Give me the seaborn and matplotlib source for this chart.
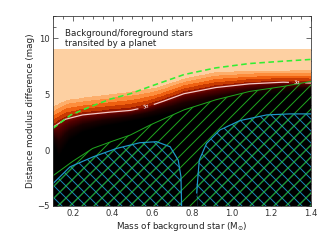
import numpy as np
import matplotlib
matplotlib.use("Agg")
import matplotlib.pyplot as plt
import seaborn as sns
from matplotlib.colors import ListedColormap, to_rgb
from matplotlib.patches import Polygon
from matplotlib.ticker import MultipleLocator

# ---------------- data ----------------
# 3-sigma detection contour
s3_m = [0.10, 0.16, 0.25, 0.39, 0.49, 0.57, 0.66, 0.76, 0.92, 1.09, 1.26, 1.40]
s3_dm = [2.05, 2.75, 3.15, 3.40, 3.55, 3.85, 4.40, 5.05, 5.60, 5.93, 6.08, 6.00]
# where the palest (peach) band starts
peach_m = [0.10, 0.17, 0.30, 0.50, 0.62, 0.77, 0.92, 1.09, 1.40]
peach_dm = [3.90, 4.50, 4.80, 5.25, 5.60, 6.45, 6.97, 7.10, 7.15]
# where the field below the contour becomes black
dark_m = [0.10, 0.13, 0.18, 0.25, 0.35, 0.50, 0.70, 0.90, 1.10, 1.40]
dark_dm = [0.5, -0.6, 0.8, 1.6, 2.1, 2.6, 3.3, 4.1, 4.8, 5.3]
field_top = 9.0
# green dashed line
dash_m = [0.10, 0.19, 0.29, 0.39, 0.49, 0.59, 0.76, 0.92, 1.09, 1.26, 1.40]
dash_dm = [1.95, 3.15, 3.90, 4.57, 5.05, 5.70, 6.76, 7.36, 7.75, 7.96, 8.12]
# green hatched region upper boundary
hb_m = [0.10, 0.20, 0.30, 0.40, 0.49, 0.59, 0.76, 0.92, 1.09, 1.26, 1.40]
hb_dm = [-2.3, -1.0, 0.15, 0.80, 1.35, 2.25, 3.60, 4.50, 5.25, 5.70, 6.15]
# blue cross-hatched regions (outlines)
lb_m = [0.10, 0.186, 0.303, 0.421, 0.538, 0.622, 0.69, 0.731, 0.745, 0.748]
lb_dm = [-3.0, -1.5, -0.6, 0.15, 0.66, 0.75, 0.30, -0.9, -2.4, -5.0]
rb_m = [0.824, 0.824, 0.837, 0.874, 0.941, 1.042, 1.177, 1.294, 1.40]
rb_dm = [-5.0, -2.7, -0.9, 0.6, 1.8, 2.64, 3.15, 3.24, 3.24]

xlim = (0.1, 1.4)
ylim = (-5, 12)

# ---------------- figure ----------------
sns.set_style("ticks")
plt.rcParams["font.family"] = ["DejaVu Sans"]
plt.rcParams["hatch.linewidth"] = 1.0

fig = plt.figure(figsize=(327 / 72, 240 / 72), dpi=72)
ax = fig.add_axes([0.162, 0.142, 0.789, 0.791])

# field
mg = np.linspace(xlim[0], xlim[1], 400)
dg = np.linspace(ylim[0], field_top, 600)
M, D = np.meshgrid(mg, dg)
b3 = np.interp(M, s3_m, s3_dm)
bp = np.interp(M, peach_m, peach_dm)
bd = np.interp(M, dark_m, dark_dm)
Z = np.where(D >= b3, (D - b3) / (bp - b3), -(b3 - D) / np.maximum(b3 - bd, 0.05))
Zc = np.clip(Z, -1.0, 1.1)

N = 512
vals = np.linspace(-1.0, 1.1, N)
band_edges = [0.0, 0.15, 0.35, 0.55, 0.78, 1.0]
band_cols = ["#9a1a00", "#c83a02", "#ef6010", "#fd8d3c", "#fdae6b", "#fdd0a2"]
dark_stops = [(-1.0, "#000000"), (-0.55, "#1a0000"), (-0.2, "#500000"), (0.0, "#800800")]
cols = []
for v in vals:
    if v < 0:
        for (x0, c0), (x1, c1) in zip(dark_stops[:-1], dark_stops[1:]):
            if x0 <= v <= x1:
                t = (v - x0) / (x1 - x0)
                a, b = np.array(to_rgb(c0)), np.array(to_rgb(c1))
                cols.append(a + t * (b - a))
                break
    else:
        idx = np.searchsorted(band_edges, v, side="right") - 1
        cols.append(to_rgb(band_cols[min(idx, len(band_cols) - 1)]))
cmap = ListedColormap(cols)
ax.pcolormesh(M, D, Zc, cmap=cmap, vmin=-1.0, vmax=1.1, shading="auto", rasterized=True)

# 3 sigma contour
cs = ax.contour(M, D, Z, levels=[0.0], colors="#f4cccc", linewidths=1.2)
ax.clabel(cs, fmt={0.0: "3σ"}, fontsize=5, colors="white", inline=True,
          manual=[(0.57, 3.85), (1.33, 6.07)])

# blue cross-hatched regions
for bm, bdm in ((lb_m, lb_dm), (rb_m, rb_dm)):
    pts = list(zip(bm, bdm))
    if bm[0] <= xlim[0] + 1e-9:
        pts = [(xlim[0], ylim[0])] + pts
    if bm[-1] >= xlim[1] - 1e-9:
        pts = pts + [(xlim[1], ylim[0])]
    ax.add_patch(Polygon(pts, closed=True, facecolor="none", edgecolor="#1a88b8",
                         hatch="xx", linewidth=0))

# green hatched region
ax.fill_between(hb_m, ylim[0], hb_dm, facecolor="none", edgecolor="#1fa51f",
                hatch="//", linewidth=0)
sns.lineplot(x=hb_m, y=hb_dm, sort=False, color="#1fa51f", linewidth=1.0, ax=ax)

for bm, bdm in ((lb_m, lb_dm), (rb_m, rb_dm)):
    sns.lineplot(x=bm, y=bdm, sort=False, color="#1e9ac8", linewidth=1.2, ax=ax)

# green dashed line
sns.lineplot(x=dash_m, y=dash_dm, sort=False, color="#33ee33", linewidth=1.6,
             linestyle=(0, (3.5, 2.2)), ax=ax)

# annotations
ax.text(0.047, 0.91, "Background/foreground stars", transform=ax.transAxes,
        fontsize=8.8, va="center", ha="left", color="#222222")
ax.text(0.047, 0.855, "transited by a planet", transform=ax.transAxes,
        fontsize=8.8, va="center", ha="left", color="#222222")

ax.set_xlim(*xlim)
ax.set_ylim(*ylim)
ax.set_xlabel("Mass of background star (M$_{\\odot}$)", fontsize=8.8, labelpad=2, color="#222222")
ax.set_ylabel("Distance modulus difference (mag)", fontsize=8.8, labelpad=2, color="#222222")
ax.xaxis.set_major_locator(MultipleLocator(0.2))
ax.xaxis.set_minor_locator(MultipleLocator(0.05))
ax.yaxis.set_major_locator(MultipleLocator(5))
ax.yaxis.set_minor_locator(MultipleLocator(1))
ax.tick_params(which="both", direction="in", top=True, right=True, labelsize=8.5,
               colors="#333333", width=0.7)
ax.tick_params(which="major", length=5)
ax.tick_params(which="minor", length=2.5)
for s in ax.spines.values():
    s.set_linewidth(0.8)
    s.set_color("#333333")
ax.set_xticks([0.2, 0.4, 0.6, 0.8, 1.0, 1.2, 1.4])
ax.set_xticklabels(["0.2", "0.4", "0.6", "0.8", "1.0", "1.2", "1.4"])
ax.set_yticks([-5, 0, 5, 10])
ax.set_yticklabels(["\u22125", "0", "5", "10"])

fig.savefig("out.png", dpi=72, facecolor="white")
